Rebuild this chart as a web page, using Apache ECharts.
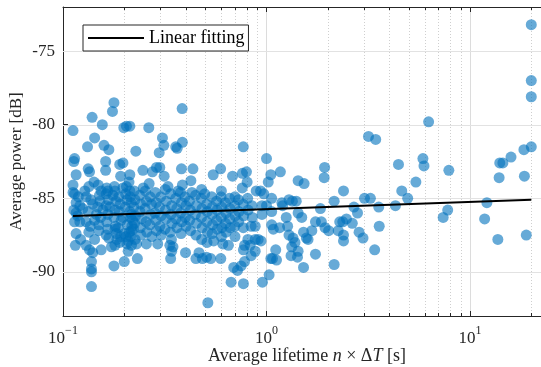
<!DOCTYPE html>
<html><head><meta charset="utf-8">
<script src="https://cdn.jsdelivr.net/npm/echarts@6/dist/echarts.min.js"></script>
<style>html,body{margin:0;padding:0;background:#fff}#c{width:541px;height:367px}</style>
</head><body><div id="c"></div>
<script>
// Average lifetime n x dT [s]
const lifetime = [
 0.112,0.114,0.113,0.116,0.112,0.112,0.114,0.116,0.113,0.116,0.114,0.116,0.115,0.121,0.122,0.119,0.121,0.118,
 0.132,0.139,0.143,0.133,0.135,0.142,0.128,0.130,0.125,0.140,0.146,0.130,0.143,0.130,0.135,0.143,0.138,0.138,0.138,0.138,0.140,0.134,0.137,0.133,0.136,0.134,
 0.156,0.159,0.168,0.162,0.162,0.175,0.178,0.151,0.154,0.163,0.166,0.176,0.180,0.157,0.170,0.180,0.150,0.163,0.166,0.180,0.154,0.173,0.180,0.178,0.184,
 0.149,0.152,0.148,0.153,0.150,0.164,0.167,0.163,0.166,0.164,0.168,0.179,0.182,0.178,0.181,0.183,
 0.199,0.205,0.213,0.197,0.190,0.192,0.213,0.211,0.228,0.197,0.205,0.213,0.197,0.217,0.220,0.200,0.217,0.209,0.209,0.200,0.230,0.232,
 0.188,0.191,0.189,0.193,0.187,0.192,0.190,0.203,0.206,0.202,0.207,0.204,0.206,0.214,0.216,0.213,0.215,0.218,0.212,0.215,0.217,0.224,0.226,0.223,0.227,0.225,0.222,0.226,
 0.247,0.264,0.275,0.299,0.297,0.308,0.313,0.314,0.265,0.248,0.257,0.292,0.288,
 0.238,0.241,0.239,0.243,0.240,0.242,0.254,0.257,0.253,0.256,0.258,0.268,0.272,0.270,0.267,0.273,0.284,0.287,0.283,0.286,0.288,0.302,0.298,0.303,0.299,0.304,0.318,0.322,0.319,0.321,0.317,
 0.358,0.364,0.385,0.386,0.382,0.425,0.435,0.386,0.368,0.430,0.335,0.347,0.342,0.338,0.400,0.450,0.328,
 0.338,0.342,0.339,0.343,0.337,0.341,0.358,0.362,0.359,0.363,0.378,0.382,0.379,0.383,0.380,0.398,0.402,0.399,0.403,0.418,0.422,0.419,0.423,0.448,0.452,0.447,0.453,0.450,
 0.547,0.595,0.480,0.497,0.600,0.466,0.480,0.484,0.507,0.532,0.550,0.596,0.610,0.515,
 0.478,0.482,0.479,0.483,0.508,0.512,0.509,0.513,0.510,0.538,0.542,0.539,0.543,0.540,0.568,0.572,0.569,0.573,0.598,0.602,0.599,0.603,0.600,
 0.681,0.761,0.797,0.803,0.769,0.700,0.760,0.890,0.650,0.670,0.690,0.700,0.720,0.750,0.770,0.770,0.780,0.780,0.810,0.830,0.840,0.840,0.880,0.880,0.910,0.940,0.955,0.935,0.970,0.950,0.950,
 0.628,0.632,0.629,0.633,0.658,0.662,0.659,0.663,0.698,0.702,0.699,0.728,0.732,0.729,0.768,0.772,0.769,0.808,0.812,0.848,0.852,
 1.00,1.05,1.02,1.17,1.43,1.53,1.06,1.19,1.29,1.40,1.06,1.20,1.43,1.49,1.25,1.06,1.08,1.16,1.27,1.29,1.35,1.38,1.33,1.32,1.52,1.43,1.42,1.11,1.05,1.07,1.12,1.52,1.03,0.880,1.00,1.34,
 1.57,1.60,1.67,1.74,1.86,1.94,2.02,2.25,2.29,2.47,2.64,2.39,2.39,1.84,2.15,1.74,2.15,1.93,1.92,2.39,2.69,2.80,2.85,2.98,2.37,
 3.03,3.24,3.56,3.58,3.40,3.17,3.44,4.30,4.45,4.62,4.94,5.42,5.87,5.94,6.26,7.87,7.77,7.38,12.1,11.8,13.7,14.0,14.5,15.9,13.9,18.4,18.5,18.9,20,20,20,20
];
// Average power [dB]
const power = [
 -80.4,-82.3,-82.5,-83.4,-84.1,-84.6,-84.7,-85.3,-85.8,-86.0,-86.6,-87.4,-88.2,-86.6,-87.8,-84.9,-85.5,-86.2,
 -81.5,-79.5,-80.9,-83.0,-83.2,-83.9,-84.5,-84.9,-85.7,-85.4,-86.1,-86.6,-86.5,-88.2,-88.5,-87.8,-89.3,-89.8,-90.0,-91.0,-88.7,-84.2,-85.1,-85.9,-86.9,-87.3,
 -80.0,-81.4,-81.7,-82.5,-83.1,-79.1,-78.5,-84.8,-84.5,-84.7,-84.5,-84.8,-84.5,-85.8,-85.6,-85.8,-87.2,-87.5,-87.1,-87.1,-88.5,-88.3,-88.2,-89.6,-87.8,
 -84.1,-85.2,-85.6,-86.3,-86.8,-84.3,-85.1,-85.5,-86.1,-86.6,-87.7,-84.2,-85.2,-86.3,-86.9,-87.4,
 -80.2,-80.1,-80.1,-82.6,-82.7,-83.5,-83.4,-83.9,-81.8,-84.3,-84.2,-84.5,-86.3,-86.1,-86.5,-87.4,-87.2,-87.9,-88.6,-89.3,-88.1,-89.1,
 -84.9,-85.4,-85.9,-86.5,-87.0,-87.6,-88.0,-84.7,-85.1,-85.6,-86.8,-87.6,-88.1,-84.9,-85.3,-85.9,-86.3,-86.9,-87.3,-87.6,-88.2,-84.5,-85.1,-85.6,-86.2,-86.7,-87.1,-87.8,
 -83.1,-80.2,-83.2,-82.9,-81.9,-80.9,-81.4,-83.5,-84.0,-84.3,-88.1,-88.1,-82.9,
 -84.8,-85.4,-85.9,-86.4,-87.0,-87.5,-84.5,-85.2,-85.7,-86.6,-87.3,-84.9,-85.4,-86.1,-86.8,-87.6,-84.6,-85.3,-86.0,-86.5,-87.2,-84.9,-85.6,-86.2,-86.9,-87.5,-84.4,-85.2,-85.8,-86.4,-87.1,
 -81.5,-81.6,-78.9,-81.2,-83.0,-83.8,-83.0,-84.1,-84.5,-84.6,-88.2,-88.3,-88.6,-89.1,-88.7,-89.1,-84.2,
 -84.7,-85.5,-86.1,-86.7,-87.3,-87.8,-85.0,-85.7,-86.4,-87.0,-84.6,-85.3,-86.0,-86.6,-87.4,-84.9,-85.5,-86.3,-86.9,-85.2,-85.8,-86.5,-87.2,-84.8,-85.5,-86.1,-86.7,-87.5,
 -83.4,-83.0,-84.4,-84.7,-84.5,-88.7,-87.8,-89.1,-89.0,-89.1,-87.9,-89.1,-88.1,-92.1,
 -85.0,-85.7,-86.3,-87.0,-85.4,-85.9,-86.6,-87.3,-88.0,-84.9,-85.6,-86.1,-86.8,-87.4,-85.2,-85.8,-86.5,-87.1,-84.9,-85.6,-86.3,-87.0,-87.6,
 -83.5,-83.3,-83.2,-83.9,-81.5,-84.9,-84.3,-84.5,-88.2,-90.7,-89.7,-87.6,-89.9,-89.6,-90.8,-88.5,-89.3,-88.2,-87.8,-88.2,-88.9,-86.9,-88.6,-87.8,-87.8,-87.9,-90.7,-84.5,-84.7,-85.5,-86.1,
 -85.3,-86.0,-86.7,-87.3,-85.0,-85.7,-86.4,-87.0,-85.5,-86.2,-86.9,-85.1,-85.9,-86.6,-85.4,-86.2,-87.0,-85.0,-85.8,-85.5,-86.3,
 -82.3,-83.4,-83.9,-83.2,-83.8,-84.0,-85.0,-85.3,-85.1,-85.2,-85.9,-85.5,-86.0,-86.3,-86.3,-86.8,-87.1,-87.0,-86.9,-87.5,-87.7,-88.0,-88.3,-88.9,-87.3,-88.6,-89.0,-88.5,-89.1,-89.1,-89.2,-89.7,-90.2,-86.9,-85.5,-85.2,
 -87.7,-87.8,-87.2,-86.6,-86.6,-87.0,-87.2,-87.2,-86.6,-86.4,-86.7,-87.5,-87.9,-85.7,-85.2,-88.8,-89.5,-82.9,-83.6,-84.5,-85.6,-86.0,-87.3,-87.7,-86.6,
 -85.0,-85.0,-85.6,-86.9,-88.5,-80.8,-81.0,-85.5,-82.7,-84.5,-85.0,-83.9,-82.3,-82.8,-79.8,-83.1,-85.8,-86.3,-85.3,-86.4,-87.8,-82.6,-82.6,-82.2,-83.6,-81.7,-83.5,-87.5,-73.2,-77.0,-78.1,-81.5
];
// Linear fit end points
const fitLifetime = [0.112, 20];
const fitPower = [-86.2, -85.1];
// Axis ticks / grid values
const yTickValues = [-90, -85, -80, -75];
const xMinorValues = [0.2,0.3,0.4,0.5,0.6,0.7,0.8,0.9,2,3,4,5,6,7,8,9,20];
const xMin = 0.1, xMax = 25, yMin = -93, yMax = -72;

const FONT = '"Liberation Serif","Times New Roman",serif';
const TXT = '#262626';

const chart = echarts.init(document.getElementById('c'), null, {renderer: 'canvas'});

function minorGrid(params, api) {
  const cs = params.coordSys;
  const x = Math.round(api.coord([api.value(0), yMin])[0]) + 0.5;
  const t = cs.y, b = cs.y + cs.height;
  return {type: 'group', children: [
    {type: 'line', shape: {x1: x, y1: t, x2: x, y2: b}, style: {stroke: '#cfcfcf', lineWidth: 1, lineDash: [1, 2]}},
    {type: 'line', shape: {x1: x, y1: b, x2: x, y2: b - 3}, style: {stroke: TXT, lineWidth: 1}},
    {type: 'line', shape: {x1: x, y1: t, x2: x, y2: t + 3}, style: {stroke: TXT, lineWidth: 1}}
  ]};
}
function yGrid(params, api) {
  const cs = params.coordSys;
  const y = Math.round(api.coord([xMin, api.value(1)])[1]) + 0.5;
  return {type: 'line', shape: {x1: cs.x, y1: y, x2: cs.x + cs.width, y2: y}, style: {stroke: '#e2e2e2', lineWidth: 1}};
}

const option = {
  animation: false,
  backgroundColor: '#fff',
  grid: {left: 63, top: 7, width: 488, height: 309, containLabel: false, outerBoundsMode: 'none'},
  legend: {
    data: [{name: 'Linear fitting', icon: 'rect'}],
    left: 83, top: 25,
    itemWidth: 56, itemHeight: 2,
    backgroundColor: '#fff', borderColor: TXT, borderWidth: 1,
    padding: [4, 4, 4, 5],
    textStyle: {fontFamily: FONT, fontSize: 18, color: '#000'}
  },
  xAxis: [{
    type: 'log', logBase: 10, min: xMin, max: xMax, position: 'bottom',
    name: '{r|Average lifetime }{i|n}{r| \u00d7 \u0394}{i|T}{r| [s]}',
    nameLocation: 'middle', nameGap: 31, nameMoveOverlap: false,
    nameTextStyle: {rich: {
      r: {fontFamily: FONT, fontSize: 18, color: TXT},
      i: {fontFamily: FONT, fontSize: 18, color: TXT, fontStyle: 'italic'}
    }},
    axisLine: {show: true, lineStyle: {color: TXT, width: 1}},
    axisTick: {show: true, inside: true, length: 5, lineStyle: {color: TXT}},
    splitLine: {show: true, lineStyle: {color: '#dcdcdc', width: 1}},
    axisLabel: {
      margin: 9,
      formatter: function (v) {
        const e = Math.log10(v), r = Math.round(e);
        if (Math.abs(e - r) > 1e-6) return '';
        return '{b|10}{s|' + (r < 0 ? '\u2212' : '') + Math.abs(r) + '}';
      },
      rich: {
        b: {fontFamily: FONT, fontSize: 17, color: TXT, lineHeight: 22, verticalAlign: 'bottom'},
        s: {fontFamily: FONT, fontSize: 12, color: TXT, lineHeight: 12, verticalAlign: 'top'}
      }
    }
  }, {
    type: 'log', logBase: 10, min: xMin, max: xMax, position: 'top',
    axisLine: {show: true, lineStyle: {color: TXT, width: 1}},
    axisTick: {show: true, inside: true, length: 5, lineStyle: {color: TXT}},
    axisLabel: {show: false}, splitLine: {show: false}
  }],
  yAxis: {
    type: 'value', min: yMin, max: yMax,
    name: 'Average power [dB]', nameLocation: 'middle', nameGap: 38, nameMoveOverlap: false,
    nameTextStyle: {fontFamily: FONT, fontSize: 17, color: TXT},
    axisLine: {show: true, onZero: false, lineStyle: {color: TXT, width: 1}},
    axisTick: {show: true, inside: true, length: 5, customValues: yTickValues, lineStyle: {color: TXT}},
    axisLabel: {customValues: yTickValues, margin: 8, fontFamily: FONT, fontSize: 17, color: TXT},
    splitLine: {show: false}
  },
  series: [
    {type: 'custom', silent: true, z: 1, clip: false, renderItem: yGrid,
     data: yTickValues.map(v => [xMin, v])},
    {type: 'custom', silent: true, z: 1, clip: false, renderItem: minorGrid,
     data: xMinorValues.map(v => [v, yMin])},
    {type: 'scatter', z: 2, symbol: 'circle', symbolSize: 11,
     itemStyle: {color: '#0072BD', opacity: 0.6}, emphasis: {disabled: true},
     data: lifetime.map((x, i) => [x, power[i]])},
    {type: 'line', name: 'Linear fitting', z: 3, symbol: 'none',
     lineStyle: {color: '#000', width: 2}, itemStyle: {color: '#000'},
     data: fitLifetime.map((x, i) => [x, fitPower[i]])}
  ]
};
chart.setOption(option);
</script>
</body></html>
